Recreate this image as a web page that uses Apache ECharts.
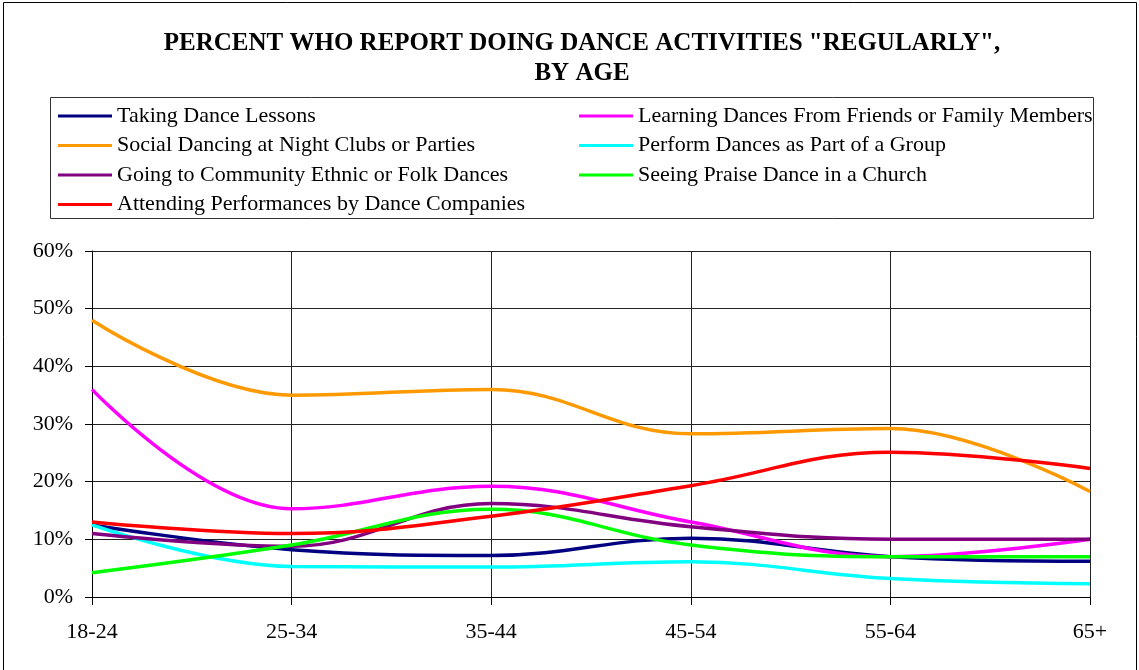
<!DOCTYPE html>
<html>
<head>
<meta charset="utf-8">
<script src="https://cdn.jsdelivr.net/npm/echarts@6/dist/echarts.min.js"></script>
<style>
  html, body { margin: 0; padding: 0; background: #fff; }
  #chart { width: 1139px; height: 670px; }
</style>
</head>
<body>
<div id="chart"></div>
<script>
const ageGroups = ['18-24', '25-34', '35-44', '45-54', '55-64', '65+']

// percent of respondents
const takingLessons = [12.5, 8.2, 7.2, 10.2, 7.0, 6.2]
const learningFriends = [36, 15.3, 19.2, 13, 7.0, 10]
const socialDancing = [48, 35, 36, 28.3, 29.2, 18.3]
const performGroup = [12.5, 5.3, 5.2, 6.1, 3.2, 2.3]
const communityEthnic = [11, 8.8, 16.2, 12.2, 10, 10]
const praiseDance = [4.2, 9.0, 15.2, 9.0, 7.0, 7.0]
const attendingPerf = [13, 11, 14, 19.3, 25.1, 22.3]

const yTicks = { min: 0, max: 60, interval: 10 }

const seriesDefs = [
  { name: 'Taking Dance Lessons', data: takingLessons, color: '#000080' },
  { name: 'Learning Dances From Friends or Family Members', data: learningFriends, color: '#FF00FF' },
  { name: 'Social Dancing at Night Clubs or Parties', data: socialDancing, color: '#FF9900' },
  { name: 'Perform Dances as Part of a Group', data: performGroup, color: '#00FFFF' },
  { name: 'Going to Community Ethnic or Folk Dances', data: communityEthnic, color: '#800080' },
  { name: 'Seeing Praise Dance in a Church', data: praiseDance, color: '#00FF00' },
  { name: 'Attending Performances by Dance Companies', data: attendingPerf, color: '#FF0000' }
]

const serif = '"Liberation Serif", "Times New Roman", serif'

const legendBase = {
  orient: 'vertical',
  icon: 'rect',
  itemWidth: 54,
  itemHeight: 3,
  itemGap: 7.5,
  padding: 0,
  selectedMode: false,
  textStyle: { fontFamily: serif, fontSize: 22, color: '#000', lineHeight: 22 }
}

const chart = echarts.init(document.getElementById('chart'))
chart.setOption({
  animation: false,
  backgroundColor: '#fff',
  color: seriesDefs.map(s => s.color),
  title: {
    text: 'PERCENT WHO REPORT DOING DANCE ACTIVITIES "REGULARLY",\nBY AGE',
    left: 577,
    textAlign: 'center',
    top: 24,
    textStyle: {
      fontFamily: serif,
      fontSize: 25,
      fontWeight: 'bold',
      color: '#000',
      lineHeight: 30
    }
  },
  graphic: [
    {
      type: 'rect',
      shape: { x: 3.5, y: 2.5, width: 1133, height: 690 },
      style: { fill: 'none', stroke: '#000', lineWidth: 1 },
      silent: true
    },
    {
      type: 'rect',
      shape: { x: 50.5, y: 97.5, width: 1043, height: 121 },
      style: { fill: 'none', stroke: '#333', lineWidth: 1 },
      silent: true
    }
  ],
  legend: [
    Object.assign({}, legendBase, {
      left: 58,
      top: 105,
      data: [seriesDefs[0].name, seriesDefs[2].name, seriesDefs[4].name, seriesDefs[6].name]
    }),
    Object.assign({}, legendBase, {
      left: 579,
      top: 105,
      data: [seriesDefs[1].name, seriesDefs[3].name, seriesDefs[5].name]
    })
  ],
  grid: {
    left: 92,
    right: 49,
    top: 251,
    bottom: 73
  },
  xAxis: {
    type: 'category',
    data: ageGroups,
    boundaryGap: false,
    axisLine: { lineStyle: { color: '#000', width: 1 } },
    axisTick: { show: true, length: 8, lineStyle: { color: '#000' } },
    axisLabel: { fontFamily: serif, fontSize: 22, color: '#000', margin: 24 },
    splitLine: { show: true, lineStyle: { color: '#222', width: 1 } }
  },
  yAxis: {
    type: 'value',
    min: yTicks.min,
    max: yTicks.max,
    interval: yTicks.interval,
    axisLine: { show: true, lineStyle: { color: '#000', width: 1 } },
    axisTick: { show: true, length: 7, lineStyle: { color: '#000' } },
    axisLabel: { fontFamily: serif, fontSize: 22, color: '#000', margin: 19, formatter: '{value}%' },
    splitLine: { show: true, lineStyle: { color: '#222', width: 1 } }
  },
  series: seriesDefs.map(s => ({
    name: s.name,
    type: 'line',
    data: s.data,
    smooth: 0.4,
    showSymbol: false,
    symbol: 'none',
    lineStyle: { color: s.color, width: 3.5 },
    itemStyle: { color: s.color }
  }))
})
</script>
</body>
</html>
